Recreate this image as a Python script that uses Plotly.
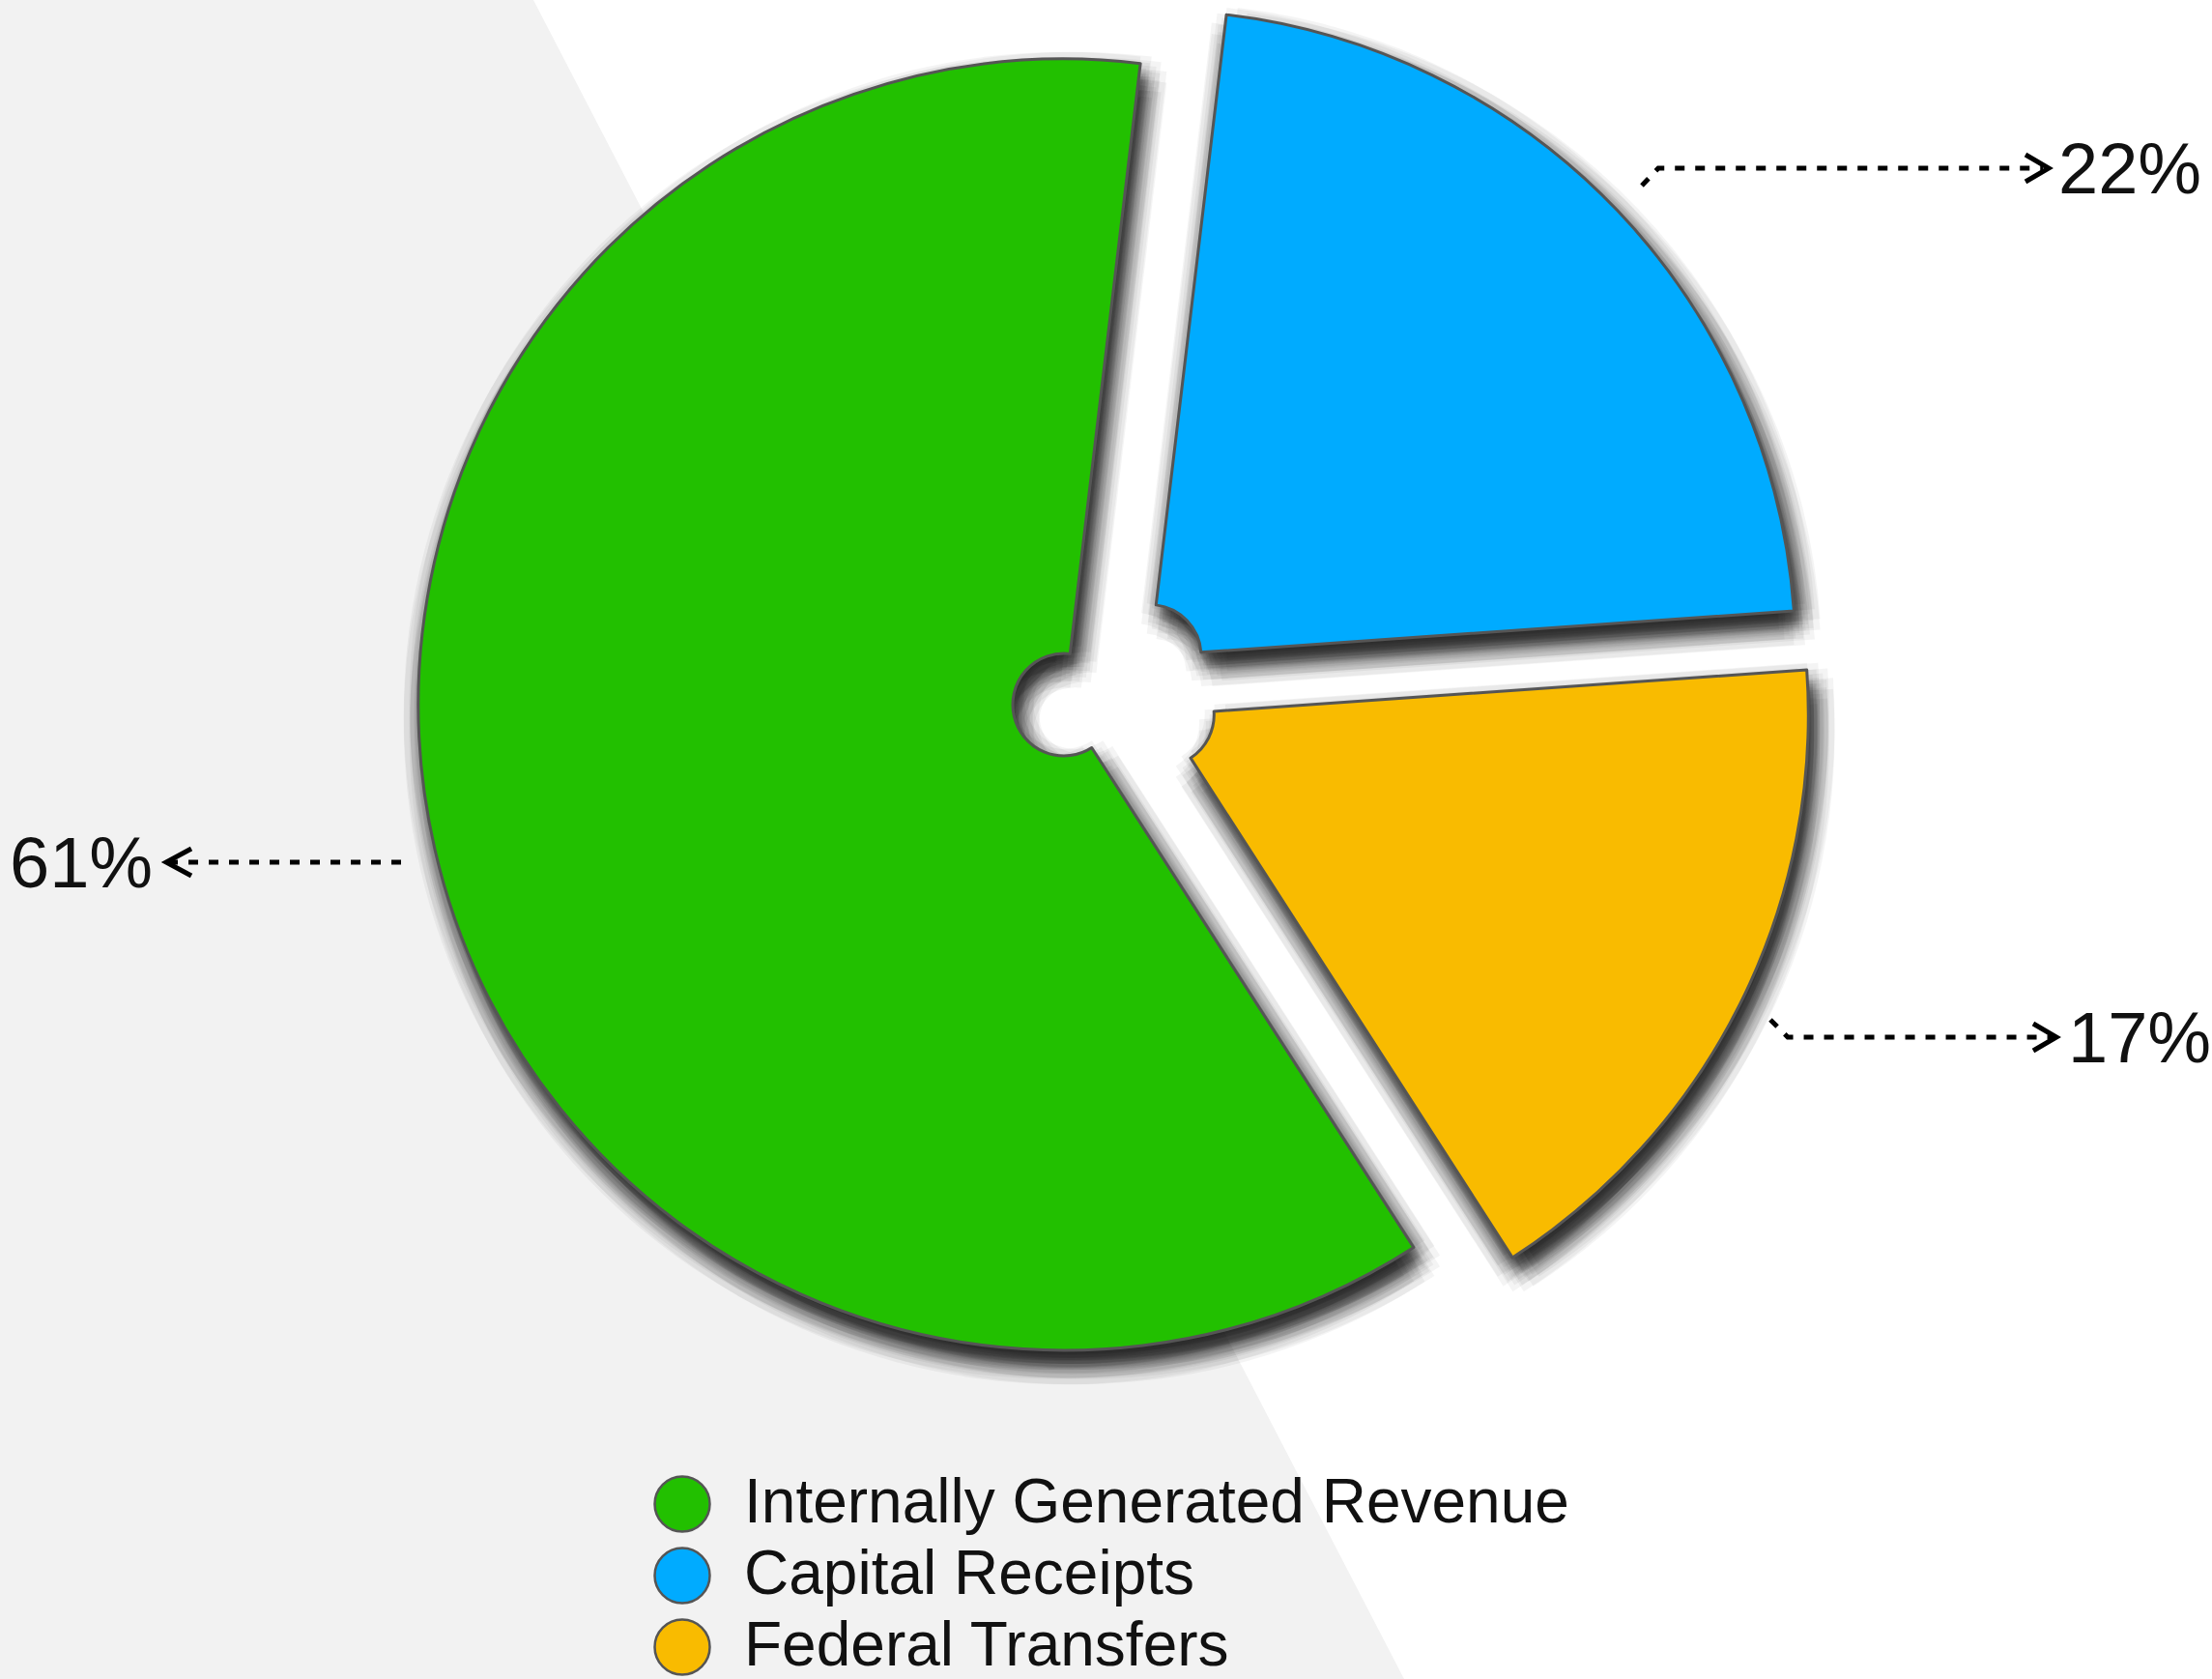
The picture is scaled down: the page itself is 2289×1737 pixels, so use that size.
import math
import plotly.graph_objects as go

W, H = 2289, 1737

# ---- data ----
categories = ["Internally Generated Revenue", "Capital Receipts", "Federal Transfers"]
values = [61, 22, 17]
colors = ["#22C000", "#00ABFF", "#F9BB00"]

# ---- geometry / style ----
R = 668
HOLE = 53 / 668
CX, CY = 1101, 729
EXPLODE = [(0, 0), (89, -50.5), (102.3, 10.6)]  # px offsets of each slice
ROT = 147.2
STROKE = "#555555"

def domain_for(cx, cy, r):
    cx = min(max(cx, r), W - r)
    cy = min(max(cy, r), H - r)
    return dict(x=[(cx - r) / W, (cx + r) / W], y=[1 - (cy + r) / H, 1 - (cy - r) / H])

def pie_layer(i, cx, cy, color, lw, skip):
    cols = ["rgba(0,0,0,0)"] * len(values)
    cols[i] = color
    widths = [0] * len(values)
    widths[i] = lw
    return go.Pie(values=values, labels=categories, sort=False, direction="clockwise",
                  rotation=ROT, hole=HOLE, domain=domain_for(cx, cy, R),
                  textinfo="none", showlegend=False,
                  marker=dict(colors=cols, line=dict(color=STROKE, width=widths)),
                  hoverinfo="skip" if skip else "label+percent")

fig = go.Figure()

# soft drop shadow (stacked translucent copies)
SH_BASE = (6, 14)
offsets = [(0, 0)]
for rr, n in ((4, 8), (9, 8), (15, 12), (22, 12)):
    for k in range(n):
        a = k * 2 * math.pi / n + (math.pi / n if n == 12 else 0)
        offsets.append((rr * math.cos(a), rr * math.sin(a)))
for i in range(len(values)):
    ex, ey = EXPLODE[i]
    for ox, oy in offsets:
        fig.add_trace(pie_layer(i, CX + ex + SH_BASE[0] + ox, CY + ey + SH_BASE[1] + oy,
                                "rgba(0,0,0,0.045)", 0, True))

# main slices
for i in range(len(values)):
    ex, ey = EXPLODE[i]
    fig.add_trace(pie_layer(i, CX + ex, CY + ey, colors[i], 3, False))

# legend (drawn with scatter on pixel axes)
LEG_X, LEG_Y0, LEG_DY = 706, 1556, 74
leg_y = [LEG_Y0 + k * LEG_DY for k in range(len(categories))]
fig.add_trace(go.Scatter(x=[LEG_X] * len(categories), y=leg_y, mode="markers",
                         marker=dict(size=57, color=colors, line=dict(color=STROKE, width=2.5)),
                         showlegend=False, hoverinfo="skip"))
fig.add_trace(go.Scatter(x=[770] * len(categories), y=[v + 3 for v in leg_y], mode="text",
                         text=categories, textposition="middle right",
                         textfont=dict(size=64, family="Liberation Sans, Arial, sans-serif", color="#111111"),
                         showlegend=False, hoverinfo="skip"))

# percentage labels with dotted arrows
pct = [f"{v}%" for v in values]
label_pos = [(160, 892, "right"), (2128, 174, "left"), (2138, 1073, "left")]
arrow_paths = ["M415,892 L175,892", "M1699,192 L1716,174 L2114,174", "M1832,1055 L1850,1073 L2124,1073"]
heads = ["M198,878 L172,892 L198,906", "M2096,160 L2120,174 L2096,188", "M2104,1059 L2128,1073 L2104,1087"]

PCT_FONT = "Liberation Sans, Arial, sans-serif"
annotations = []
for i, (x, y, anc) in enumerate(label_pos):
    annotations.append(dict(x=x, y=y, xref="x", yref="y", text=pct[i], showarrow=False,
                            xanchor=anc, yanchor="middle",
                            font=dict(size=74, family=PCT_FONT, color="#111111")))

shapes = [dict(type="path", xref="x", yref="y", path=f"M0,0 L552,0 L1453,{H} L0,{H} Z",
               fillcolor="#F2F2F2", line=dict(width=0), layer="below")]
for p in arrow_paths:
    shapes.append(dict(type="path", xref="x", yref="y", path=p,
                       line=dict(color="#000000", width=5, dash="10px,11px"), layer="above"))
for p in heads:
    shapes.append(dict(type="path", xref="x", yref="y", path=p,
                       line=dict(color="#000000", width=5), layer="above"))

fig.update_layout(
    width=W, height=H, margin=dict(l=0, r=0, t=0, b=0),
    paper_bgcolor="#FFFFFF", plot_bgcolor="rgba(0,0,0,0)",
    showlegend=False,
    xaxis=dict(range=[0, W], visible=False, fixedrange=True),
    yaxis=dict(range=[H, 0], visible=False, fixedrange=True),
    shapes=shapes, annotations=annotations,
)

fig.write_html("out.html", config={"displayModeBar": False},
               post_script="document.body.style.margin='0';document.body.style.overflow='hidden';")
